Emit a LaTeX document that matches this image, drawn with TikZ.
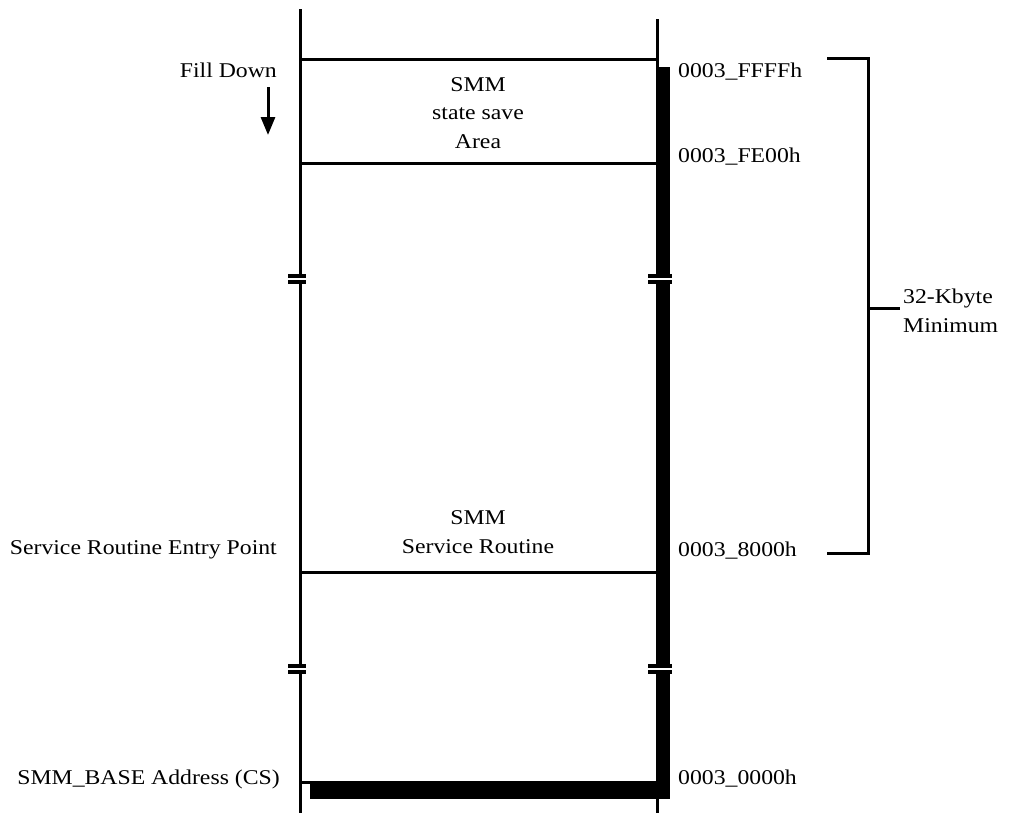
\documentclass[tikz,border=0pt]{standalone}
\usepackage{fontspec}
\setmainfont{Liberation Serif}[FakeStretch=1.13]
\usetikzlibrary{arrows.meta}
\begin{document}
\begin{tikzpicture}[x=1pt,y=-1pt,every node/.style={font=\fontsize{21}{28.5}\selectfont,inner sep=0pt},wall/.style={line width=3pt},tick/.style={line width=3.4pt},addr/.style={anchor=west},side/.style={anchor=east},area/.style={align=center}]
\useasboundingbox (0,0) rectangle (1014,815);
% memory walls
\draw[wall] (300,9) -- (300,276);
\draw[wall] (300,282) -- (300,666);
\draw[wall] (300,672) -- (300,813);
\draw[wall] (657,19) -- (657,67);
\fill (656,67) rectangle (670,277);
\fill (656,281) rectangle (670,667);
\fill (656,671) rectangle (670,799);
\fill (310,781) rectangle (670,799);
\draw[wall] (657,799) -- (657,813);
% breaks
\foreach \y in {276,282,666,672} {
  \draw[tick] (288,\y) -- (306,\y);
  \draw[tick] (648,\y) -- (672,\y);
}
% boundaries
\draw[wall] (300,59) -- (657,59);
\draw[wall] (300,163) -- (657,163);
\draw[wall] (300,572) -- (657,572);
\draw[wall] (300,782.5) -- (657,782.5);
% regions
\node[area] (savearea) at (478,113) {SMM\\state save\\Area};
\node[area] (routine) at (478,532) {SMM\\Service Routine};
% addresses
\node[addr] (ffff) at (678,72) {0003\_FFFFh};
\node[addr] (fe00) at (678,157) {0003\_FE00h};
\node[addr] (a8000) at (678,551) {0003\_8000h};
\node[addr] (a0000) at (678,779) {0003\_0000h};
% left labels
\node[side] (filldown) at (277,70) {Fill Down};
\node[side] (entry) at (277,550) {Service Routine Entry Point};
\node[side] (smmbase) at (280,779) {SMM\_BASE Address (CS)};
\coordinate (fdtop) at (268,87);
\coordinate (fdbot) at (268,135);
\draw[wall,-{Triangle[length=18pt,width=14pt]}] (fdtop) -- (fdbot);
% 32K bracket
\draw[wall] (827,58) -- (868,58) -- (868,553) -- (827,553);
\draw[wall] (868,308) -- (900,308);
\node[anchor=west,align=left] (minimum) at (903,311) {32-Kbyte\\Minimum};
\end{tikzpicture}
\end{document}
